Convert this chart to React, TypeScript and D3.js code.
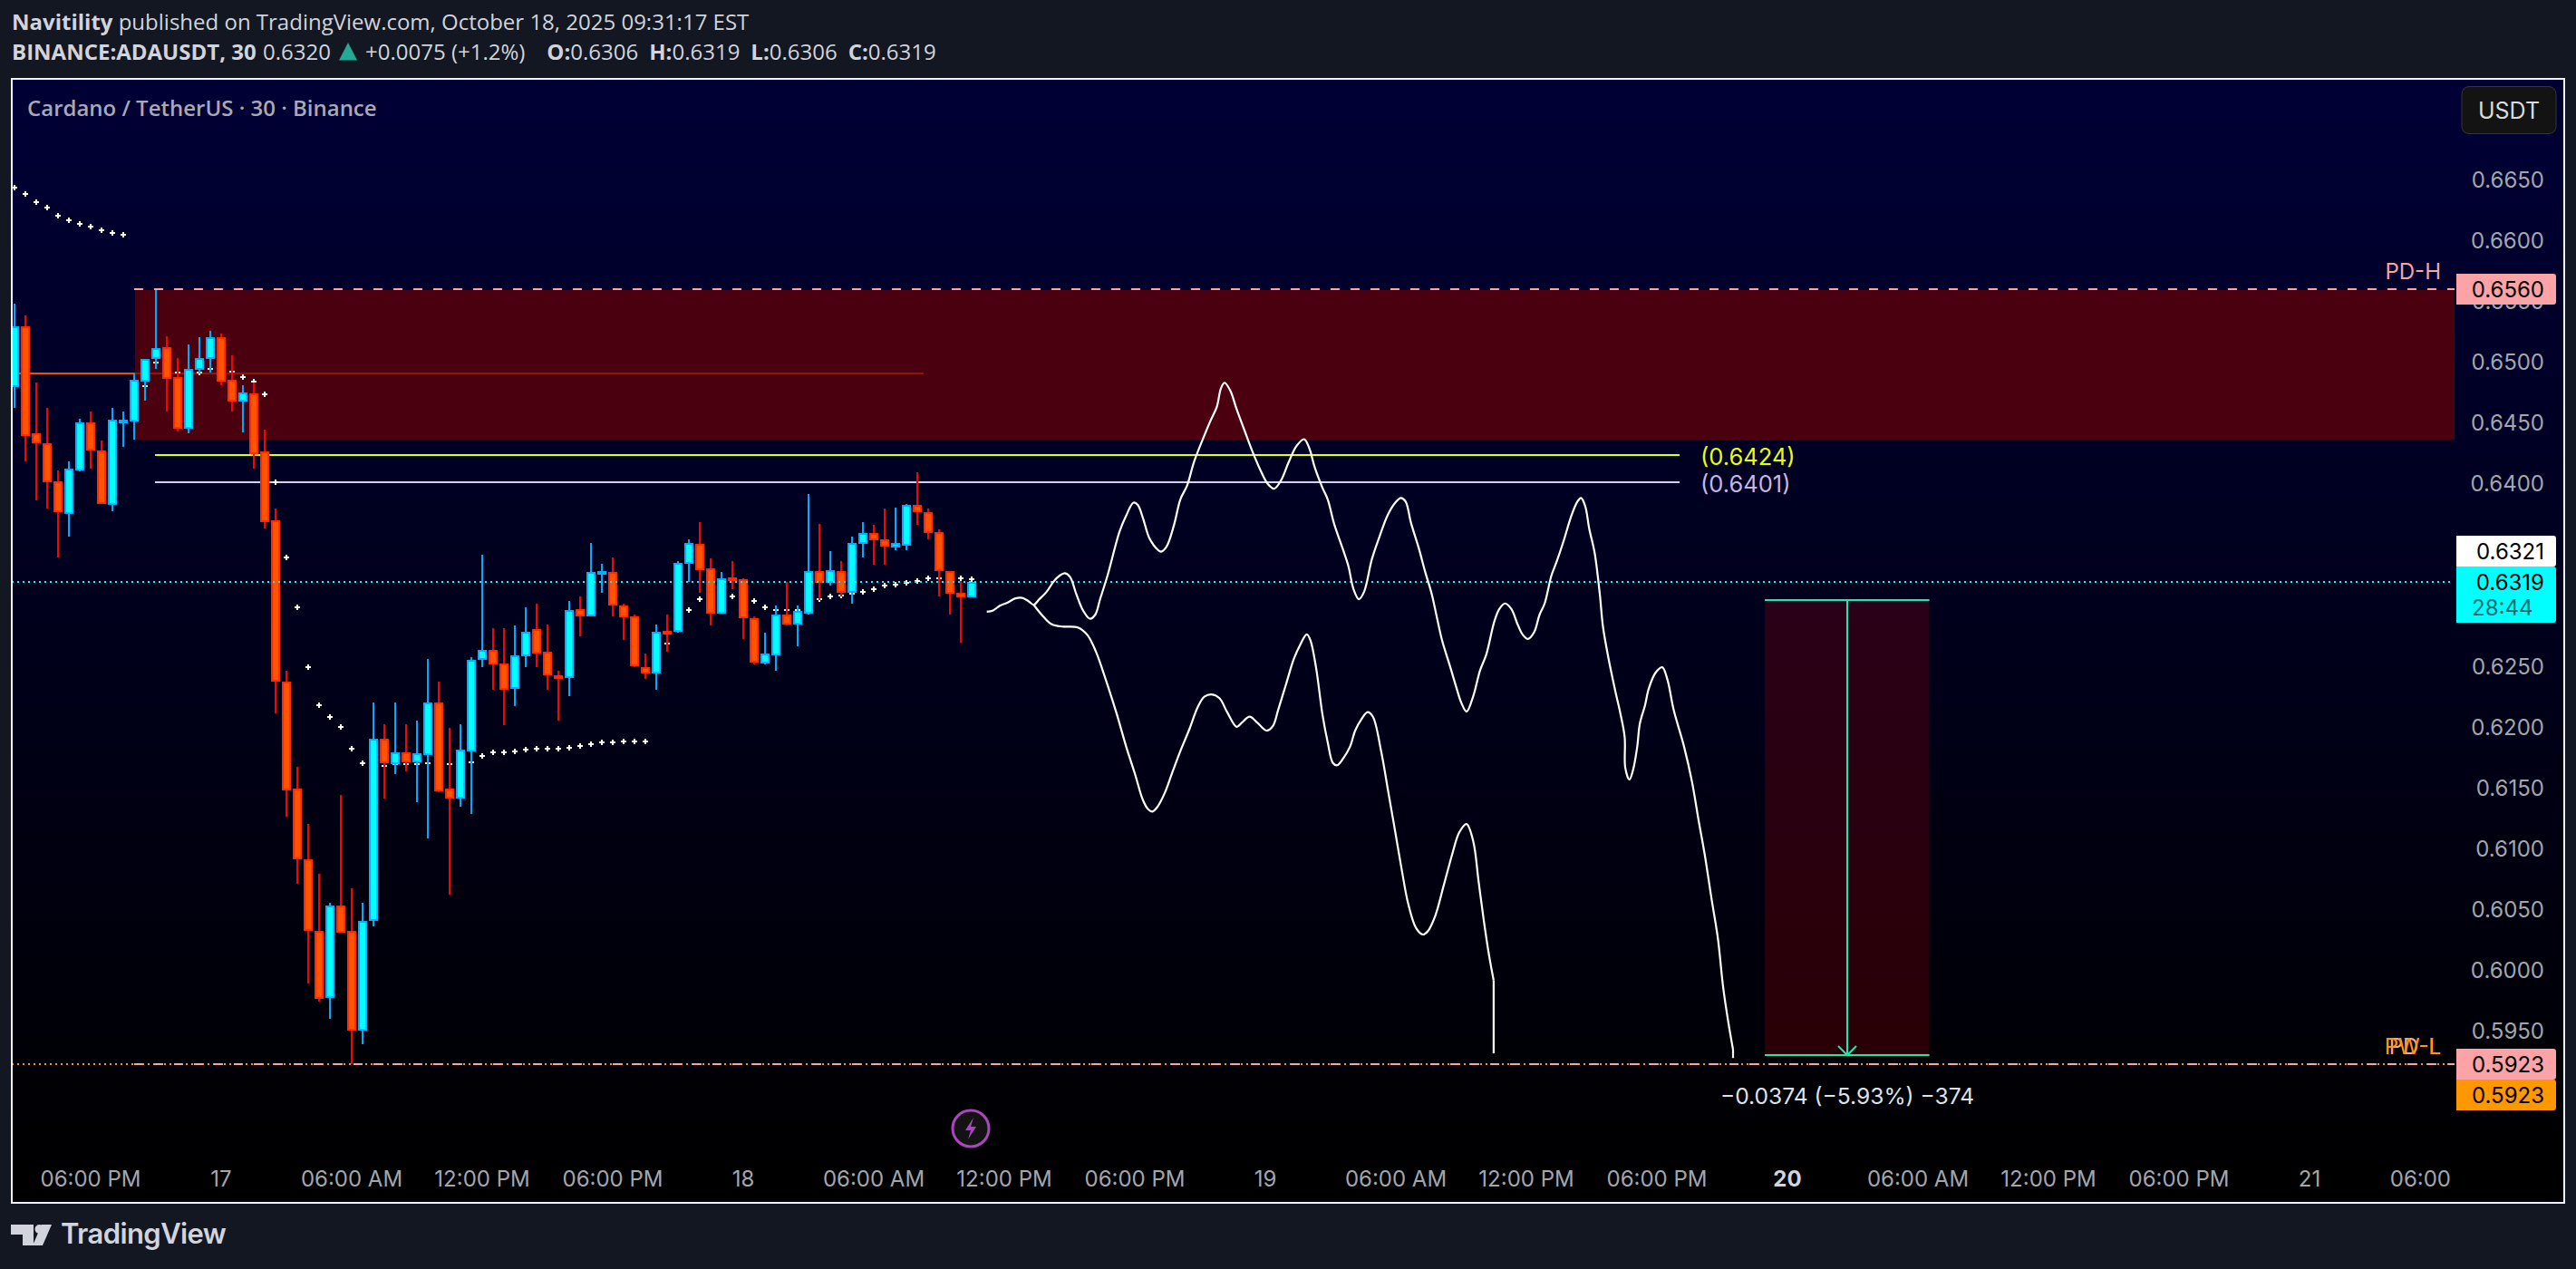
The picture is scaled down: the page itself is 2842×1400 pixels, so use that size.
import { useEffect, useRef } from 'react';
import * as d3 from 'd3';

// candles, 30 min bars
const opens = [
  0.6479, 0.6529, 0.6441, 0.6433, 0.6402, 0.6375, 0.6411, 0.6450, 0.6427, 0.6382,
  0.6451, 0.6451, 0.6484, 0.6502, 0.6512, 0.6487, 0.6445, 0.6493, 0.6502, 0.6520,
  0.6485, 0.6467, 0.6474, 0.6426, 0.6370, 0.6237, 0.6149, 0.6091, 0.6032, 0.5977,
  0.6053, 0.6032, 0.5950, 0.6040, 0.6190, 0.6169, 0.6179, 0.6171, 0.6177, 0.6220,
  0.6149, 0.6141, 0.6180, 0.6255, 0.6263, 0.6252, 0.6231, 0.6258, 0.6280, 0.6262,
  0.6242, 0.6240, 0.6297, 0.6291, 0.6326, 0.6327, 0.6300, 0.6291, 0.6249, 0.6244,
  0.6279, 0.6278, 0.6334, 0.6350, 0.6330, 0.6293, 0.6323, 0.6321, 0.6289, 0.6252,
  0.6259, 0.6292, 0.6284, 0.6293, 0.6328, 0.6318, 0.6328, 0.6310, 0.6350, 0.6359,
  0.6354, 0.6347, 0.6349, 0.6382, 0.6376, 0.6360, 0.6328, 0.6310, 0.6306,
];
const highs = [
  0.6548, 0.6538, 0.6483, 0.6462, 0.6411, 0.6418, 0.6453, 0.6459, 0.6435, 0.6462,
  0.6459, 0.6490, 0.6502, 0.6560, 0.6521, 0.6503, 0.6514, 0.6520, 0.6525, 0.6523,
  0.6505, 0.6481, 0.6483, 0.6444, 0.6379, 0.6246, 0.6167, 0.6120, 0.6079, 0.6055,
  0.6144, 0.6067, 0.6055, 0.6220, 0.6202, 0.6220, 0.6202, 0.6205, 0.6256, 0.6237,
  0.6199, 0.6202, 0.6257, 0.6341, 0.6281, 0.6281, 0.6283, 0.6298, 0.6301, 0.6284,
  0.6246, 0.6303, 0.6307, 0.6351, 0.6334, 0.6339, 0.6301, 0.6292, 0.6260, 0.6284,
  0.6292, 0.6336, 0.6354, 0.6368, 0.6338, 0.6327, 0.6336, 0.6322, 0.6291, 0.6277,
  0.6300, 0.6319, 0.6300, 0.6391, 0.6367, 0.6344, 0.6336, 0.6356, 0.6368, 0.6366,
  0.6379, 0.6380, 0.6383, 0.6409, 0.6379, 0.6362, 0.6328, 0.6320, 0.6319,
];
const lows = [
  0.6462, 0.6418, 0.6386, 0.6379, 0.6339, 0.6356, 0.6410, 0.6412, 0.6383, 0.6377,
  0.6430, 0.6436, 0.6468, 0.6494, 0.6459, 0.6443, 0.6441, 0.6490, 0.6491, 0.6481,
  0.6459, 0.6442, 0.6412, 0.6363, 0.6211, 0.6126, 0.6071, 0.5989, 0.5974, 0.5960,
  0.6031, 0.5923, 0.5939, 0.6036, 0.6141, 0.6161, 0.6163, 0.6138, 0.6108, 0.6146,
  0.6062, 0.6134, 0.6128, 0.6249, 0.6230, 0.6201, 0.6217, 0.6249, 0.6249, 0.6230,
  0.6205, 0.6225, 0.6274, 0.6291, 0.6310, 0.6291, 0.6271, 0.6249, 0.6239, 0.6230,
  0.6262, 0.6277, 0.6319, 0.6310, 0.6283, 0.6293, 0.6313, 0.6272, 0.6251, 0.6251,
  0.6246, 0.6283, 0.6266, 0.6292, 0.6304, 0.6316, 0.6307, 0.6301, 0.6339, 0.6333,
  0.6333, 0.6345, 0.6345, 0.6366, 0.6354, 0.6307, 0.6292, 0.6269, 0.6306,
];
const closes = [
  0.6529, 0.6439, 0.6433, 0.6401, 0.6376, 0.6412, 0.6450, 0.6427, 0.6383, 0.6452,
  0.6452, 0.6485, 0.6502, 0.6511, 0.6486, 0.6445, 0.6494, 0.6503, 0.6520, 0.6484,
  0.6467, 0.6475, 0.6424, 0.6368, 0.6237, 0.6148, 0.6091, 0.6032, 0.5976, 0.6053,
  0.6031, 0.5950, 0.6040, 0.6190, 0.6170, 0.6179, 0.6171, 0.6178, 0.6220, 0.6147,
  0.6141, 0.6181, 0.6255, 0.6263, 0.6251, 0.6230, 0.6259, 0.6278, 0.6260, 0.6242,
  0.6239, 0.6296, 0.6291, 0.6327, 0.6328, 0.6300, 0.6290, 0.6250, 0.6244, 0.6278,
  0.6278, 0.6335, 0.6351, 0.6329, 0.6293, 0.6322, 0.6322, 0.6289, 0.6253, 0.6260,
  0.6292, 0.6284, 0.6295, 0.6328, 0.6318, 0.6329, 0.6310, 0.6351, 0.6359, 0.6353,
  0.6348, 0.6351, 0.6382, 0.6376, 0.6359, 0.6328, 0.6309, 0.6306, 0.6319,
];

// white cross dots, three runs
const dotsStartA = 0;
const dotsA = [0.6643, 0.6638, 0.6631, 0.6627, 0.6620, 0.6616, 0.6613, 0.6611, 0.6608, 0.6606, 0.6604];
const dotsStartB = 12;
const dotsB = [
  0.6480, 0.6499, 0.6496, 0.6491, 0.6491, 0.6491, 0.6494, 0.6493, 0.6492, 0.6487, 0.6484, 0.6473,
  0.6401, 0.6339, 0.6298, 0.6249, 0.6218, 0.6208, 0.6200, 0.6182, 0.6170, 0.6169, 0.6168, 0.6169,
  0.6169, 0.6169, 0.6170, 0.6170, 0.6169, 0.6170, 0.6171, 0.6176, 0.6179, 0.6179, 0.6180, 0.6181,
  0.6182, 0.6182, 0.6182, 0.6183, 0.6184, 0.6186, 0.6187, 0.6187, 0.6188, 0.6188, 0.6188,
];
const dotsStartC = 60;
const dotsC = [
  0.6268, 0.6283, 0.6296, 0.6305, 0.6309, 0.6308, 0.6307, 0.6305, 0.6303, 0.6298, 0.6296, 0.6296,
  0.6296, 0.6299, 0.6305, 0.6307, 0.6308, 0.6309, 0.6311, 0.6313, 0.6316, 0.6317, 0.6318, 0.6320,
  0.6322, 0.6322, 0.6322, 0.6322, 0.6321,
];

// hand drawn forecast paths: [bar, price]
const forecastUpper: [number, number][] = [
  [89.39, 0.62945], [89.97, 0.62956], [90.59, 0.62994], [91.31, 0.63021], [92.02, 0.63055], [92.65, 0.63059],
  [93.22, 0.63032], [93.7, 0.63002], [94.18, 0.63044], [94.89, 0.63109], [95.52, 0.63192], [96.09, 0.63242],
  [96.57, 0.63261], [97.05, 0.6323], [97.62, 0.6309], [98.24, 0.62956], [98.86, 0.62888], [99.34, 0.62918],
  [99.82, 0.63052], [100.49, 0.63242], [101.11, 0.63451], [101.59, 0.63603], [102.21, 0.63736], [102.88, 0.63842],
  [103.27, 0.63823], [103.74, 0.63717], [104.32, 0.63553], [104.94, 0.6347], [105.42, 0.63439], [105.9, 0.63477],
  [106.61, 0.6366], [107.19, 0.63869], [107.81, 0.63983], [108.43, 0.64173], [109.25, 0.64363], [109.96, 0.64515],
  [110.54, 0.64629], [110.92, 0.64781], [111.25, 0.64827], [111.78, 0.64762], [112.36, 0.6461], [113.07, 0.64439],
  [113.79, 0.64268], [114.51, 0.64116], [115.23, 0.63994], [115.8, 0.63956], [116.42, 0.64021], [117.14, 0.64173],
  [117.86, 0.64306], [118.57, 0.64363], [119.05, 0.64287], [119.53, 0.64135], [120.25, 0.63964], [120.73, 0.63869],
  [121.35, 0.6366], [122.16, 0.63451], [122.64, 0.63318], [123.12, 0.63127], [123.6, 0.63048], [124.08, 0.63109],
  [124.79, 0.63375], [125.51, 0.63565], [126.23, 0.63736], [126.95, 0.63842], [127.47, 0.6388], [127.9, 0.6385],
  [128.38, 0.63679], [129.1, 0.6347], [129.67, 0.6328], [130.3, 0.6309], [130.77, 0.62899], [131.25, 0.62709],
  [131.97, 0.625], [132.54, 0.62329], [133.02, 0.62196], [133.5, 0.62124], [134.12, 0.62253], [134.74, 0.62462],
  [135.32, 0.62595], [136.04, 0.62861], [136.51, 0.62968], [137.04, 0.63013], [137.62, 0.62968], [138.19, 0.62842],
  [138.67, 0.62755], [139.15, 0.62721], [139.72, 0.62778], [140.2, 0.62918], [140.68, 0.63013], [141.3, 0.63242],
  [141.78, 0.63356], [142.49, 0.63546], [143.07, 0.63717], [143.69, 0.6385], [144.03, 0.6388], [144.41, 0.63812],
  [144.79, 0.63622], [145.27, 0.63432], [145.75, 0.6309], [146.04, 0.62823], [146.56, 0.62557], [147.18, 0.62291],
  [147.66, 0.62101], [148.04, 0.61911], [148.09, 0.61664], [148.47, 0.61565], [148.81, 0.61645], [149.19, 0.61835],
  [149.43, 0.62025], [149.91, 0.62177], [150.24, 0.6231], [150.87, 0.62443], [151.49, 0.62489], [151.97, 0.62386],
  [152.54, 0.62139], [153.5, 0.61835], [154.22, 0.6155], [154.84, 0.61227], [155.41, 0.60942], [156.03, 0.60581],
  [156.61, 0.60258], [157.09, 0.59859], [157.56, 0.59574], [158, 0.59346], [158, 0.59277],
];
const forecastLower: [number, number][] = [
  [93.7, 0.63002], [94.65, 0.62899], [95.37, 0.62842], [96.33, 0.62823], [97.76, 0.62816], [98.63, 0.62755],
  [99.44, 0.62614], [100.4, 0.62367], [101.35, 0.62101], [102.21, 0.61835], [103.03, 0.61607], [103.74, 0.61398],
  [104.22, 0.61322], [104.61, 0.61303], [105.08, 0.61341], [105.75, 0.61455], [106.38, 0.61607], [107.09, 0.61778],
  [108.05, 0.61987], [108.77, 0.62158], [109.39, 0.62246], [110.06, 0.62265], [110.78, 0.62234], [111.49, 0.6212],
  [112.36, 0.61999], [112.83, 0.62033], [113.55, 0.62082], [114.27, 0.62033], [115.13, 0.61968], [115.7, 0.62006],
  [116.18, 0.62139], [116.9, 0.62348], [117.62, 0.62557], [118.19, 0.62671], [118.81, 0.62759], [119.15, 0.62709],
  [119.67, 0.62481], [120.25, 0.62101], [120.73, 0.61873], [121.21, 0.61702], [121.59, 0.61683], [122.16, 0.6174],
  [122.78, 0.61835], [123.26, 0.61968], [123.84, 0.62063], [124.41, 0.6212], [124.89, 0.62082], [125.65, 0.61797],
  [126.32, 0.61455], [126.95, 0.61132], [127.57, 0.60809], [128.14, 0.60543], [128.86, 0.60345], [129.48, 0.60292],
  [129.96, 0.60322], [130.63, 0.60448], [131.4, 0.60695], [132.21, 0.60961], [132.83, 0.61132], [133.5, 0.612],
  [134.12, 0.61056], [134.6, 0.60733], [135.08, 0.6041], [135.56, 0.60125], [135.99, 0.59916], [135.99, 0.59315],
];

// 0.6350 and 0.6300 sit behind the price flags in the reference
const priceTicks = [0.665, 0.66, 0.655, 0.65, 0.645, 0.64, 0.625, 0.62, 0.615, 0.61, 0.605, 0.6, 0.595];
const timeLabels = [
  '06:00 PM', '17', '06:00 AM', '12:00 PM', '06:00 PM', '18', '06:00 AM', '12:00 PM', '06:00 PM', '19',
  '06:00 AM', '12:00 PM', '06:00 PM', '20', '06:00 AM', '12:00 PM', '06:00 PM', '21', '06:00',
];
const timeBars = [7, 19, 31, 43, 55, 67, 79, 91, 103, 115, 127, 139, 151, 163, 175, 187, 199, 211, 221.2];

const pdHigh = 0.656;
const pdLow = 0.5923;
const zoneBottom = 0.6436;
const refLevel = 0.649;
const levelYellow = 0.6424;
const levelWhite = 0.6401;
const lastPrice = 0.6319;
const measureTop = 0.6304;
const measureBottom = 0.593;

const W = 2842;
const H = 1400;
const FONT_UI = '"Open Sans", "Noto Sans", sans-serif';
const FONT_AXIS = 'Inter, Roboto, sans-serif';

export default function App() {
  const svgRef = useRef<SVGSVGElement>(null);

  useEffect(() => {
    if (!svgRef.current) return;
    const svg = d3.select(svgRef.current);
    svg.selectAll('*').remove();

    const x = d3.scaleLinear().domain([0, 224]).range([16, 2704]);
    const yRaw = d3.scaleLinear().domain([0.665, 0.595]).range([197.7, 1137.3]);
    // snap to whole pixels so thin marks stay crisp
    const y = (v: number) => Math.round(yRaw(v));

    const left = 13;
    const top = 87;
    const right = 2829;
    const bottom = 1327;
    const paneRight = 2708;

    // page + chart background
    const defs = svg.append('defs');
    const grad = defs.append('linearGradient')
      .attr('id', 'bg').attr('x1', 0).attr('x2', 0).attr('y1', 0).attr('y2', 1);
    grad.append('stop').attr('offset', 0).attr('stop-color', '#000036');
    grad.append('stop').attr('offset', 1).attr('stop-color', '#000000');
    defs.append('clipPath').attr('id', 'pane')
      .append('rect').attr('x', left).attr('y', top).attr('width', paneRight - left).attr('height', bottom - top);

    svg.append('rect').attr('width', W).attr('height', H).attr('fill', '#131722');
    svg.append('rect')
      .attr('x', left).attr('y', top).attr('width', right - left).attr('height', bottom - top)
      .attr('fill', 'url(#bg)');

    // header
    const head1 = svg.append('text').attr('x', 13).attr('y', 33)
      .attr('font-family', FONT_UI).attr('font-size', 24).attr('fill', '#d1d4dc');
    head1.append('tspan').attr('font-weight', 700).text('Navitility');
    head1.append('tspan').text(' published on TradingView.com, October 18, 2025 09:31:17 EST');

    const head2 = svg.append('text').attr('x', 13).attr('y', 66)
      .attr('font-family', FONT_UI).attr('font-size', 24).attr('fill', '#d1d4dc');
    head2.append('tspan').attr('font-weight', 700).text('BINANCE:ADAUSDT, 30');
    head2.append('tspan').attr('x', 290).text('0.6320');
    svg.append('path').attr('d', 'M384 47 L394 66.5 L374 66.5 Z').attr('fill', '#22ab94');
    head2.append('tspan').attr('x', 403).text('+0.0075 (+1.2%)');
    head2.append('tspan').attr('dx', 24).attr('font-weight', 700).text('O:');
    head2.append('tspan').text('0.6306');
    head2.append('tspan').attr('dx', 12).attr('font-weight', 700).text('H:');
    head2.append('tspan').text('0.6319');
    head2.append('tspan').attr('dx', 12).attr('font-weight', 700).text('L:');
    head2.append('tspan').text('0.6306');
    head2.append('tspan').attr('dx', 12).attr('font-weight', 700).text('C:');
    head2.append('tspan').text('0.6319');

    svg.append('text').attr('x', 30).attr('y', 128)
      .attr('font-family', FONT_UI).attr('font-size', 24).attr('font-weight', 600).attr('fill', '#a7a9b8')
      .text('Cardano / TetherUS · 30 · Binance');

    // price axis
    svg.append('g').selectAll('text').data(priceTicks).enter().append('text')
      .attr('x', 2807).attr('y', d => y(d)).attr('text-anchor', 'end').attr('dominant-baseline', 'central')
      .attr('font-family', FONT_AXIS).attr('font-size', 24).attr('fill', '#a3a6af')
      .text(d => d.toFixed(4));

    // time axis
    svg.append('g').selectAll('text').data(timeLabels).enter().append('text')
      .attr('x', (_, i) => x(timeBars[i])).attr('y', 1300).attr('text-anchor', 'middle').attr('dominant-baseline', 'central')
      .attr('font-family', FONT_AXIS).attr('font-size', 24)
      .attr('font-weight', d => (d === '20' ? 700 : 400))
      .attr('fill', d => (d === '20' ? '#d1d4dc' : '#a3a6af'))
      .text(d => d);

    const plot = svg.append('g').attr('clip-path', 'url(#pane)');

    // reference line, dimmer once it runs under the zone
    const zoneStart = 11.08;
    plot.append('line').attr('x1', left).attr('x2', x(zoneStart)).attr('y1', y(refLevel)).attr('y2', y(refLevel))
      .attr('stroke', '#f04e00').attr('stroke-width', 2);

    // supply zone
    plot.append('rect')
      .attr('x', x(zoneStart)).attr('y', y(pdHigh) + 1)
      .attr('width', paneRight - x(zoneStart)).attr('height', y(zoneBottom) - y(pdHigh) - 1)
      .attr('fill', '#4b0010');
    plot.append('line').attr('x1', x(zoneStart)).attr('x2', 1019).attr('y1', y(refLevel)).attr('y2', y(refLevel))
      .attr('stroke', '#8a1a00').attr('stroke-width', 2);

    // levels
    [
      { v: levelYellow, c: '#e6ff00', lc: '#e6ff00' },
      { v: levelWhite, c: '#d9cfee', lc: '#c5b8e0' },
    ].forEach(l => {
      const ly = Math.ceil(yRaw(l.v));
      plot.append('line').attr('x1', 171).attr('x2', 1853).attr('y1', ly).attr('y2', ly)
        .attr('stroke', l.c).attr('stroke-width', 2);
      plot.append('text').attr('x', 1876).attr('y', ly + 1).attr('dominant-baseline', 'central')
        .attr('font-family', FONT_AXIS).attr('font-size', 25.5).attr('fill', l.lc)
        .text(`(${l.v.toFixed(4)})`);
    });

    // cross dots
    const dotPts = [
      ...dotsA.map((v, i) => [dotsStartA + i, v]),
      ...dotsB.map((v, i) => [dotsStartB + i, v]),
      ...dotsC.map((v, i) => [dotsStartC + i, v]),
    ];
    plot.append('g').selectAll('path').data(dotPts).enter().append('path')
      .attr('d', d => {
        const cx = x(d[0]);
        const cy = y(d[1]);
        return `M${cx - 3} ${cy}h6M${cx} ${cy - 3}v6`;
      })
      .attr('stroke', '#ffffff').attr('stroke-width', 2).attr('fill', 'none');

    // candles
    const candles = opens.map((o, i) => ({ i, o, h: highs[i], l: lows[i], c: closes[i] }));
    const cg = plot.append('g').selectAll('g').data(candles).enter().append('g');
    cg.append('rect')
      .attr('x', d => x(d.i) - 1).attr('width', 2)
      .attr('y', d => y(d.h)).attr('height', d => y(d.l) - y(d.h))
      .attr('fill', d => (d.c >= d.o ? '#00aaff' : '#ff0000'));
    cg.append('rect')
      .attr('x', d => x(d.i) - 5).attr('width', 10)
      .attr('y', d => y(Math.max(d.o, d.c)))
      .attr('height', d => Math.max(4, y(Math.min(d.o, d.c)) - y(Math.max(d.o, d.c))))
      .attr('fill', d => (d.c >= d.o ? '#00b0ff' : '#ff2a00'));
    cg.append('rect')
      .attr('x', d => x(d.i) - 3).attr('width', 6)
      .attr('y', d => y(Math.max(d.o, d.c)) + 2)
      .attr('height', d => Math.max(0, y(Math.min(d.o, d.c)) - y(Math.max(d.o, d.c)) - 4))
      .attr('fill', d => (d.c >= d.o ? '#00ffff' : '#ff5500'));

    // last price line
    plot.append('line').attr('x1', left).attr('x2', 2704).attr('y1', y(lastPrice)).attr('y2', y(lastPrice))
      .attr('stroke', '#00ffff').attr('stroke-width', 2).attr('stroke-dasharray', '2 4');

    // prev day / week levels
    plot.append('line').attr('x1', left).attr('x2', paneRight).attr('y1', y(pdLow)).attr('y2', y(pdLow))
      .attr('stroke', '#ff9800').attr('stroke-width', 2).attr('stroke-dasharray', '2 4');
    [pdHigh, pdLow].forEach(v => {
      plot.append('line').attr('x1', x(zoneStart) - 1).attr('x2', paneRight).attr('y1', y(v)).attr('y2', y(v))
        .attr('stroke', '#f8a5a8').attr('stroke-width', 2).attr('stroke-dasharray', '10 12');
    });

    // measure box
    const mx0 = x(160.92);
    const mx1 = x(176.05);
    const mMid = Math.round((mx0 + mx1) / 2);
    const mTeal = '#22e6b0';
    plot.append('rect').attr('x', mx0).attr('y', y(measureTop)).attr('width', mx1 - mx0)
      .attr('height', y(measureBottom) - y(measureTop)).attr('fill', 'rgba(255,0,0,0.16)');
    [measureTop, measureBottom].forEach(v => {
      plot.append('line').attr('x1', mx0).attr('x2', mx1).attr('y1', y(v)).attr('y2', y(v))
        .attr('stroke', mTeal).attr('stroke-width', 2);
    });
    plot.append('line').attr('x1', mMid).attr('x2', mMid).attr('y1', y(measureTop)).attr('y2', y(measureBottom))
      .attr('stroke', mTeal).attr('stroke-width', 2);
    plot.append('path')
      .attr('d', `M${mMid - 10} ${y(measureBottom) - 10}L${mMid} ${y(measureBottom)}L${mMid + 10} ${y(measureBottom) - 10}`)
      .attr('fill', 'none').attr('stroke', mTeal).attr('stroke-width', 2);
    plot.append('text').attr('x', mMid).attr('y', 1209).attr('text-anchor', 'middle').attr('dominant-baseline', 'central')
      .attr('font-family', FONT_AXIS).attr('font-size', 24.6).attr('fill', '#dfe2ea')
      .text('−0.0374 (−5.93%) −374');

    // forecast paths: smooth body, then a straight drop at the end
    const curve = d3.line<[number, number]>().x(d => x(d[0])).y(d => yRaw(d[1])).curve(d3.curveCatmullRom.alpha(0.5));
    const straight = d3.line<[number, number]>().x(d => x(d[0])).y(d => yRaw(d[1]));
    [forecastUpper, forecastLower].forEach(pts => {
      plot.append('path').attr('d', curve(pts.slice(0, -1))).attr('fill', 'none').attr('stroke', '#ffffff').attr('stroke-width', 2.2);
      plot.append('path').attr('d', straight(pts.slice(-2))).attr('fill', 'none').attr('stroke', '#ffffff').attr('stroke-width', 2.2);
    });

    // level names
    const tag = (t: string, yy: number, c: string) =>
      svg.append('text').attr('x', 2693).attr('y', yy).attr('text-anchor', 'end').attr('dominant-baseline', 'central')
        .attr('font-family', FONT_AXIS).attr('font-size', 24).attr('fill', c).text(t);
    tag('PD-H', 299, '#f8a5a8');
    tag('PD-L', 1154, '#f8a5a8');
    tag('PW-L', 1154, '#ff9800');

    // price flags
    const flag = (yTop: number, h: number, fill: string) =>
      svg.append('path')
        .attr('d', `M2710 ${yTop}H2817Q2820 ${yTop} 2820 ${yTop + 3}V${yTop + h - 3}Q2820 ${yTop + h} 2817 ${yTop + h}H2710Z`)
        .attr('fill', fill);
    const flagText = (t: string, yy: number, c: string) =>
      svg.append('text').attr('x', 2807).attr('y', yy).attr('text-anchor', 'end').attr('dominant-baseline', 'central')
        .attr('font-family', FONT_AXIS).attr('font-size', 24).attr('fill', c).text(t);
    flag(y(pdHigh) - 17, 34, '#fca3a7');
    flagText(pdHigh.toFixed(4), y(pdHigh), '#000000');
    flag(591, 34, '#ffffff');
    flagText('0.6321', 608, '#000000');
    flag(625, 62, '#00ffff');
    flagText(lastPrice.toFixed(4), y(lastPrice), '#000000');
    svg.append('text').attr('x', 2727).attr('y', 670).attr('dominant-baseline', 'central')
      .attr('font-family', FONT_AXIS).attr('font-size', 24).attr('fill', '#006b6f').text('28:44');
    flag(y(pdLow) - 17, 34, '#fca3a7');
    flagText(pdLow.toFixed(4), y(pdLow), '#000000');
    flag(y(pdLow) + 17, 34, '#ff9800');
    flagText(pdLow.toFixed(4), y(pdLow) + 34, '#000000');

    // currency button
    svg.append('rect').attr('x', 2716).attr('y', 95.5).attr('width', 104).attr('height', 52).attr('rx', 8)
      .attr('fill', '#131313').attr('stroke', '#363636').attr('stroke-width', 1);
    svg.append('text').attr('x', 2768).attr('y', 122).attr('text-anchor', 'middle').attr('dominant-baseline', 'central')
      .attr('font-family', FONT_AXIS).attr('font-size', 25).attr('fill', '#dbdbdb').text('USDT');

    // lightning badge
    svg.append('circle').attr('cx', 1071).attr('cy', 1245).attr('r', 20)
      .attr('fill', '#131313').attr('stroke', '#ab47bc').attr('stroke-width', 3);
    svg.append('path').attr('d', 'M1074 1233 L1065 1247 L1071 1247 L1068 1257 L1077 1243 L1071 1243 Z')
      .attr('fill', '#ab47bc');

    // frame
    svg.append('rect')
      .attr('x', left).attr('y', top).attr('width', right - left).attr('height', bottom - top)
      .attr('fill', 'none').attr('stroke', '#f0f3fa').attr('stroke-width', 2);

    // footer logo
    svg.append('path').attr('d', 'M12 1351H37V1374H25V1362H12Z').attr('fill', '#d1d4dc');
    svg.append('circle').attr('cx', 43.5).attr('cy', 1356).attr('r', 5).attr('fill', '#d1d4dc');
    svg.append('path').attr('d', 'M46 1351H57L47 1374H36Z').attr('fill', '#d1d4dc');
    svg.append('text').attr('x', 67).attr('y', 1372)
      .attr('font-family', FONT_AXIS).attr('font-size', 31).attr('font-weight', 600).attr('fill', '#d1d4dc')
      .attr('letter-spacing', -0.6).text('TradingView');
  }, []);

  return (
    <svg
      ref={svgRef}
      width={W}
      height={H}
      style={{ position: 'absolute', left: 0, top: 0, display: 'block' }}
    />
  );
}
